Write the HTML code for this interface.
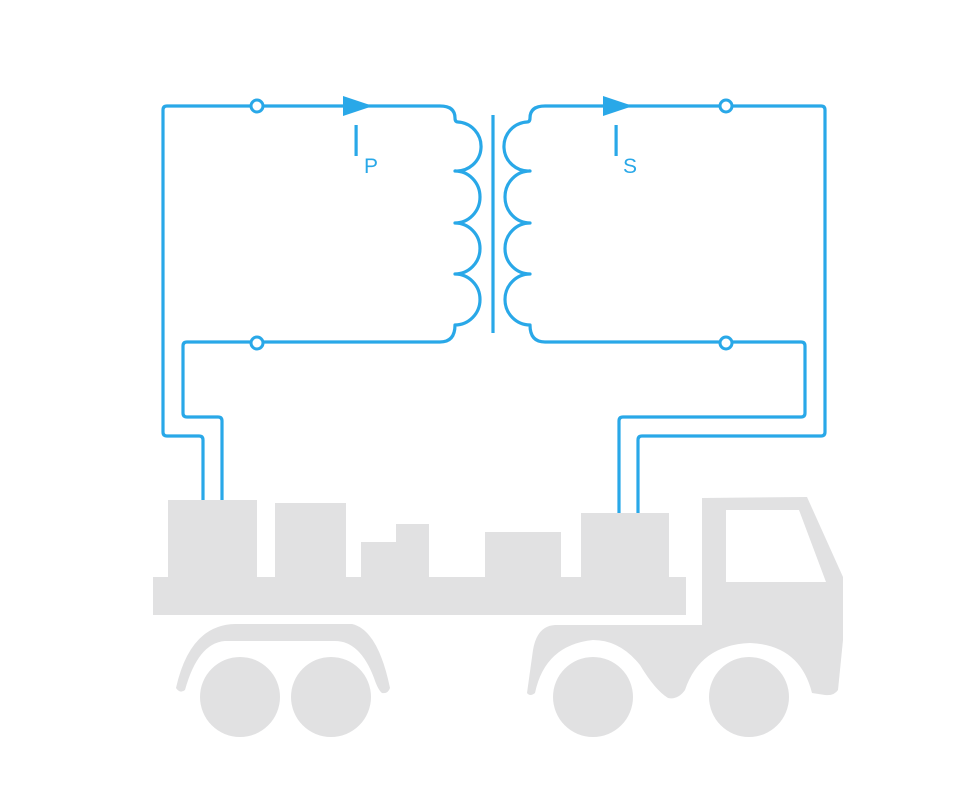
<!DOCTYPE html>
<html><head><meta charset="utf-8"><style>html,body{margin:0;padding:0;background:#fff}svg{display:block}</style></head>
<body>
<svg width="975" height="798" viewBox="0 0 975 798" xmlns="http://www.w3.org/2000/svg">
<g fill="#e1e1e2">
<rect x="168" y="500" width="89" height="80"/>
<rect x="275" y="503" width="71" height="77"/>
<rect x="361" y="542" width="36" height="38"/>
<rect x="396" y="524" width="33" height="56"/>
<rect x="485" y="532" width="76" height="48"/>
<rect x="581" y="513" width="88" height="67"/>
<rect x="153" y="577" width="533" height="38"/>
<path d="M702,498 L807,497 L843,577 L843,640 L838,690 Q834,696 825,695 L812,693 Q800,645 750,643 Q700,645 685,690 Q678,700 668,698 Q655,690 640,665 Q620,640 593,640 Q545,645 535,693 Q530,697 527,693 L533,650 Q537,626 555,625 L702,625 Z M726,510 L726,582 L826,582 L799,510 Z" fill-rule="evenodd"/>
<path d="M176,688 Q190,625 235,624 L352,624 Q378,630 390,688 Q388,694 382,693 Q378,690 374,678 Q360,641 335,641 L225,641 Q198,643 185,690 Q180,694 176,688 Z"/>
<circle cx="240" cy="697" r="40"/>
<circle cx="331" cy="697" r="40"/>
<circle cx="593" cy="697" r="40"/>
<circle cx="749" cy="697" r="40"/>
</g>
<g fill="none" stroke="#29a8e8" stroke-width="3.2" stroke-linejoin="round">
<path d="M203,500 L203,440 Q203,436 199,436 L167,436 Q163,436 163,432 L163,110 Q163,106 167,106 L440,106 Q455,106 455,118 Q455,122 458,122 A24.5,24.5 0 0 1 455,171 A25,26 0 0 1 455,223 A25,25.5 0 0 1 455,274 A25,25.5 0 0 1 455,325 Q455,342 440,342 L187,342 Q183,342 183,346 L183,413 Q183,417 187,417 L218,417 Q222,417 222,421 L222,500"/>
<path d="M638,513 L638,440 Q638,436 642,436 L821,436 Q825,436 825,432 L825,110 Q825,106 821,106 L545,106 Q530,106 530,118 Q530,122 527,122 A24.5,24.5 0 0 0 530,171 A25,26 0 0 0 530,223 A25,25.5 0 0 0 530,274 A25,25.5 0 0 0 530,325 Q530,342 545,342 L801,342 Q805,342 805,346 L805,413 Q805,417 801,417 L623,417 Q619,417 619,421 L619,513"/>
<line x1="493" y1="115" x2="493" y2="333"/>
</g>
<g fill="#fff" stroke="#29a8e8" stroke-width="3">
<circle cx="257" cy="106" r="6"/>
<circle cx="257" cy="343" r="6"/>
<circle cx="726" cy="106" r="6"/>
<circle cx="726" cy="343" r="6"/>
</g>
<g fill="#29a8e8">
<polygon points="343,96 373,106 343,116"/>
<polygon points="603,96 633,106 603,116"/>
<rect x="354.5" y="125" width="3.2" height="31"/>
<rect x="614.5" y="125" width="3.2" height="31"/>
<text x="364" y="173" font-family="Liberation Sans, sans-serif" font-size="21">P</text>
<text x="623" y="173" font-family="Liberation Sans, sans-serif" font-size="21">S</text>
</g>
</svg>
</body></html>
